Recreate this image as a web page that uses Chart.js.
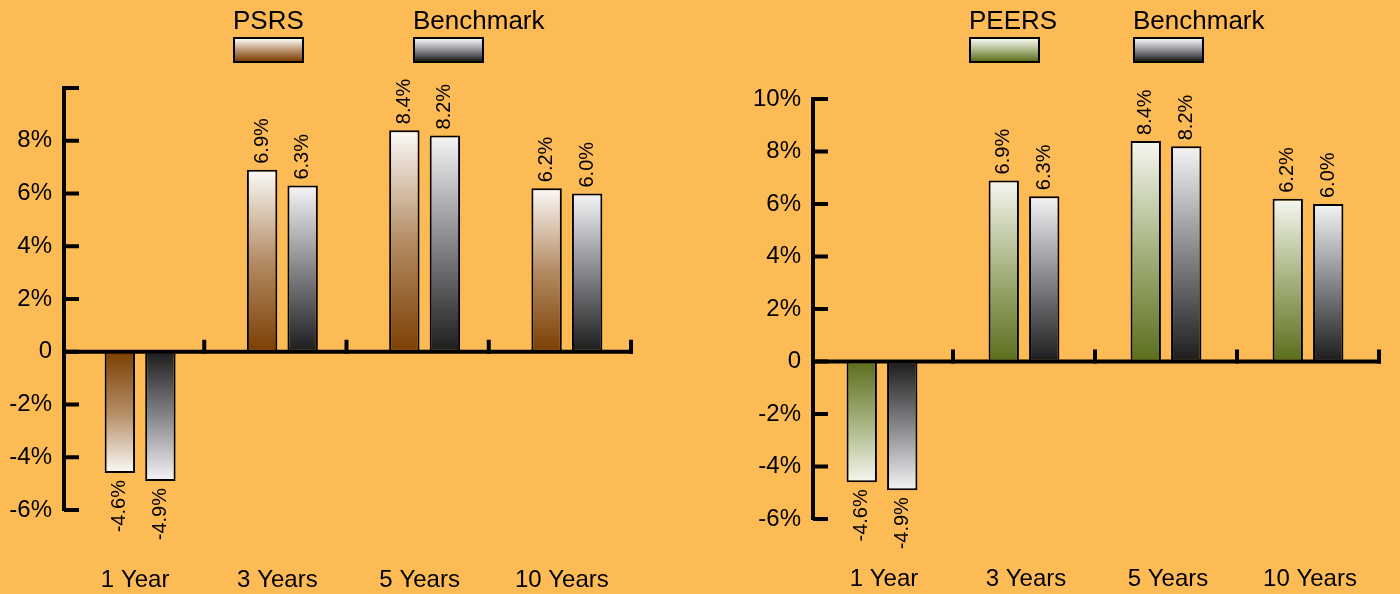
<!DOCTYPE html>
<html>
<head>
  <meta charset="UTF-8"/>
  <title>PSRS / PEERS vs Benchmark</title>
  <script src="https://cdn.jsdelivr.net/npm/chart.js"></script>
  <style>
    body { margin: 0; background: #fdbb55; font-family: Arial, "Liberation Sans", sans-serif; }
    .wrap { position: absolute; top: 0; width: 700px; height: 594px; }
    .legend-item { position: absolute; top: 7px; font-size: 26px; line-height: 26px; color: #000; white-space: nowrap; }
    .legend-item .box { position: absolute; top: 30px; left: 0; width: 67px; height: 22px; border: 2px solid #000; }
  </style>
</head>
<body>
  <div class="wrap" style="left:0"><canvas id="leftChart" width="700" height="594"></canvas></div>
  <div class="wrap" style="left:700px"><canvas id="rightChart" width="700" height="594"></canvas></div>
  <script>
    // data
    const periods = ['1 Year', '3 Years', '5 Years', '10 Years'];
    const psrsReturns = [-4.6, 6.9, 8.4, 6.2];
    const peersReturns = [-4.6, 6.9, 8.4, 6.2];
    const benchmarkReturns = [-4.9, 6.3, 8.2, 6.0];
    const yMin = -6, yMax = 10, yStep = 2;

    // colour ramps: [at zero, middle, at bar end]
    const brownRamp = ['#7b3f03', '#b48c64', '#fbfaf8'];
    const greenRamp = ['#5a6e1c', '#a4b27e', '#f6f7f1'];
    const greyRamp = ['#1c1c1c', '#85868a', '#f5f5f7'];

    Chart.defaults.font.family = 'Arial, "Liberation Sans", sans-serif';
    Chart.defaults.color = '#000';

    function rampFill(ramp) {
      return function(c) {
        const chart = c.chart;
        if (!chart.chartArea || c.raw === undefined) return ramp[1];
        const y = chart.scales.y;
        const g = chart.ctx.createLinearGradient(0, y.getPixelForValue(0), 0, y.getPixelForValue(c.raw));
        g.addColorStop(0, ramp[0]);
        g.addColorStop(0.5, ramp[1]);
        g.addColorStop(1, ramp[2]);
        return g;
      };
    }

    // zero line, inward y ticks, category separators
    const axisMarks = {
      id: 'axisMarks',
      defaults: { shift: 0 },
      beforeDatasetsDraw(chart, args, opts) {
        const { ctx, chartArea, scales: { x, y } } = chart;
        const y0 = y.getPixelForValue(0);
        ctx.save();
        ctx.strokeStyle = '#000';
        ctx.lineWidth = 4;
        ctx.beginPath();
        ctx.moveTo(chartArea.left, y0);
        ctx.lineTo(chartArea.right, y0);
        ctx.stroke();
        y.ticks.forEach(t => {
          const py = y.getPixelForValue(t.value);
          ctx.beginPath();
          ctx.moveTo(chartArea.left, py);
          ctx.lineTo(chartArea.left + 15, py);
          ctx.stroke();
        });
        const half = (x.getPixelForValue(1) - x.getPixelForValue(0)) / 2;
        periods.forEach((p, i) => {
          const px = x.getPixelForValue(i) + half - 2;
          ctx.beginPath();
          ctx.moveTo(px, y0 + 2);
          ctx.lineTo(px, y0 - 12);
          ctx.stroke();
        });
        ctx.restore();
        // bars sit slightly off the category centre in the original
        ctx.save();
        ctx.translate(opts.shift, 0);
      },
      afterDatasetsDraw(chart) {
        chart.ctx.restore();
      }
    };

    // rotated value labels
    const valueLabels = {
      id: 'valueLabels',
      afterDatasetsDraw(chart) {
        const ctx = chart.ctx;
        const shift = chart.options.plugins.axisMarks.shift || 0;
        ctx.save();
        ctx.font = '20px Arial, "Liberation Sans", sans-serif';
        ctx.fillStyle = '#000';
        ctx.textBaseline = 'middle';
        chart.data.datasets.forEach((ds, i) => {
          chart.getDatasetMeta(i).data.forEach((bar, j) => {
            const v = ds.data[j];
            ctx.save();
            ctx.translate(bar.x + shift, bar.y);
            ctx.rotate(-Math.PI / 2);
            if (v >= 0) {
              ctx.textAlign = 'left';
              ctx.fillText(v.toFixed(1) + '%', 6, 0);
            } else {
              ctx.textAlign = 'right';
              ctx.fillText(v.toFixed(1) + '%', -7, 0);
            }
            ctx.restore();
          });
        });
        ctx.restore();
      }
    };

    function addLegend(canvasId, items) {
      const wrap = document.getElementById(canvasId).parentNode;
      items.forEach(it => {
        const d = document.createElement('div');
        d.className = 'legend-item';
        d.style.left = it.left + 'px';
        d.textContent = it.label;
        const b = document.createElement('div');
        b.className = 'box';
        b.style.background = 'linear-gradient(to bottom, ' + it.ramp[2] + ', ' + it.ramp[1] + ' 55%, ' + it.ramp[0] + ')';
        d.appendChild(b);
        wrap.appendChild(d);
      });
    }

    function makeChart(canvasId, fundLabel, fundData, fundRamp, opts) {
      return new Chart(document.getElementById(canvasId), {
        type: 'bar',
        data: {
          labels: periods,
          datasets: [
            { label: fundLabel, data: fundData, backgroundColor: rampFill(fundRamp) },
            { label: 'Benchmark', data: benchmarkReturns, backgroundColor: rampFill(greyRamp) }
          ]
        },
        options: {
          responsive: false,
          devicePixelRatio: 1,
          animation: false,
          layout: { padding: { top: opts.top, left: opts.left, right: opts.right, bottom: 0 } },
          datasets: {
            bar: {
              borderColor: '#000',
              borderWidth: 2,
              borderSkipped: false,
              categoryPercentage: 0.57,
              barPercentage: 0.75
            }
          },
          plugins: {
            legend: { display: false },
            tooltip: { enabled: false },
            axisMarks: { shift: opts.shift }
          },
          scales: {
            x: {
              grid: { display: false },
              border: { display: false },
              ticks: { font: { size: 24 }, padding: opts.labelPad, color: '#000' },
              afterFit(s) { s.height = opts.xHeight; }
            },
            y: {
              min: yMin,
              max: yMax,
              grid: { display: false, drawTicks: false },
              border: { display: true, color: '#000', width: 4 },
              ticks: {
                stepSize: yStep,
                font: { size: 24 },
                padding: 12,
                color: '#000',
                callback: v => v === 0 ? '0' : (v === yMax && !opts.showTop ? '' : v + '%')
              },
              afterFit(s) { s.width = 64; }
            }
          }
        },
        plugins: [axisMarks, valueLabels]
      });
    }

    makeChart('leftChart', 'PSRS', psrsReturns, brownRamp,
      { top: 88, left: 0, right: 67, xHeight: 84, labelPad: 48, showTop: false, shift: 5 });
    makeChart('rightChart', 'PEERS', peersReturns, greenRamp,
      { top: 99, left: 49, right: 19, xHeight: 75, labelPad: 38, showTop: true, shift: -2 });

    addLegend('leftChart', [
      { label: 'PSRS', left: 233, ramp: brownRamp },
      { label: 'Benchmark', left: 413, ramp: greyRamp }
    ]);
    addLegend('rightChart', [
      { label: 'PEERS', left: 269, ramp: greenRamp },
      { label: 'Benchmark', left: 433, ramp: greyRamp }
    ]);
  </script>
</body>
</html>
